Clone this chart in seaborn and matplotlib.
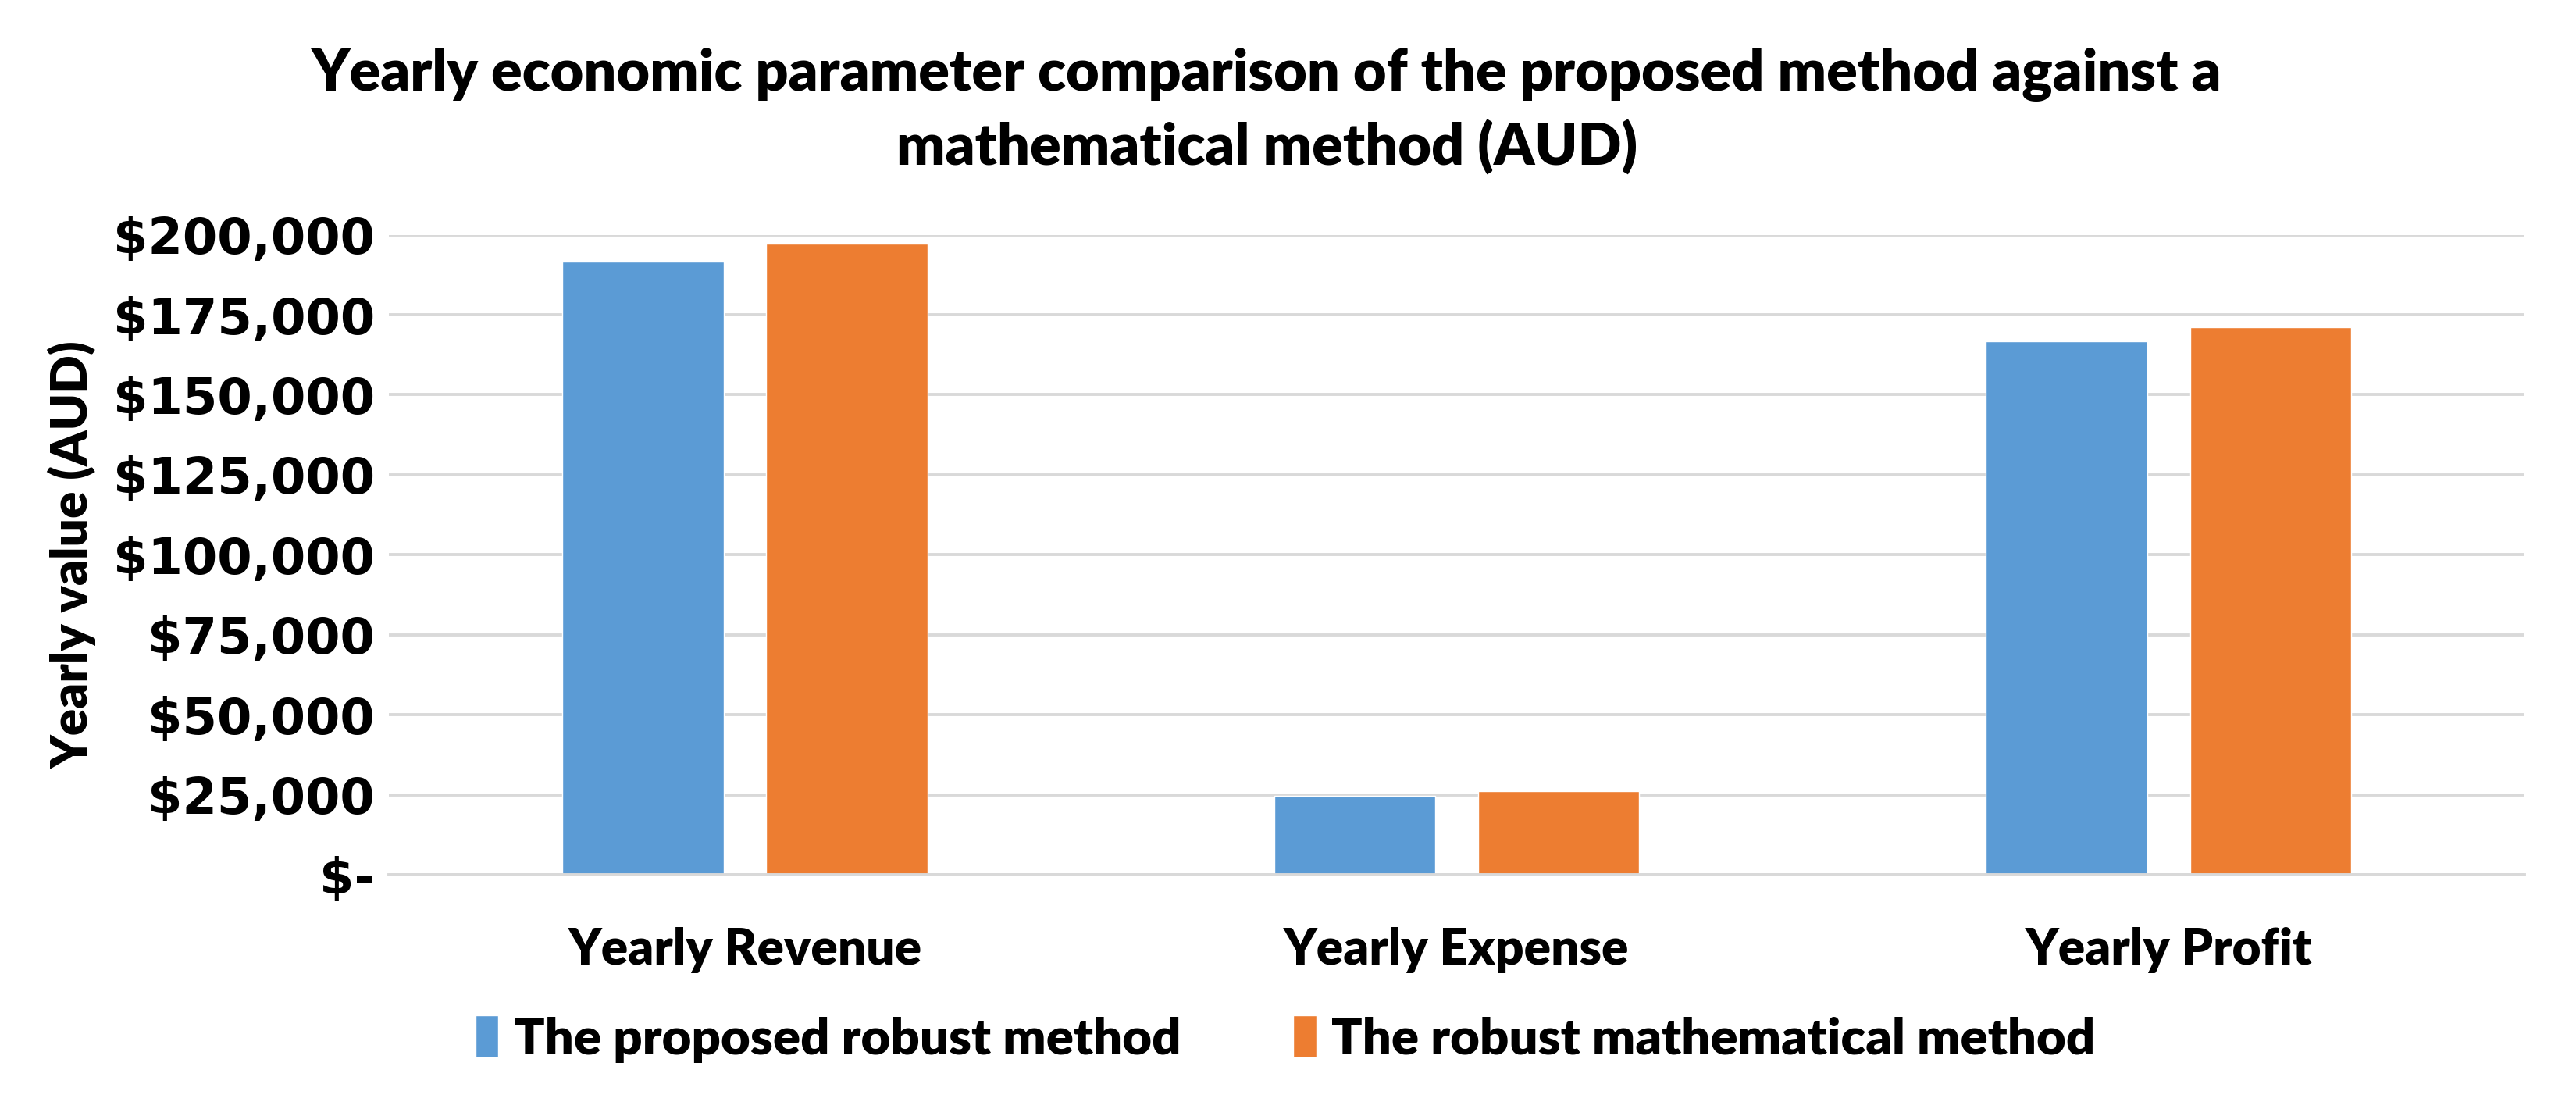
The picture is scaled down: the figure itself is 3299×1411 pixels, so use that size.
import matplotlib
matplotlib.use("Agg")
import matplotlib.pyplot as plt
import matplotlib.ticker as mticker
import seaborn as sns
import pandas as pd

categories = ["Yearly Revenue", "Yearly Expense", "Yearly Profit"]
series_names = ["The proposed robust method", "The robust mathematical method"]
proposed_values = [191700, 24800, 166600]
mathematical_values = [197300, 26200, 171200]
y_ticks = [0, 25000, 50000, 75000, 100000, 125000, 150000, 175000, 200000]

title_line1 = "Yearly economic parameter comparison of the proposed method against a"
title_line2 = "mathematical method (AUD)"
y_label = "Yearly value (AUD)"

colors = ["#5B9BD5", "#ED7D31"]

df = pd.DataFrame({
    "category": categories * 2,
    "series": [series_names[0]] * 3 + [series_names[1]] * 3,
    "value": proposed_values + mathematical_values,
})

sns.set_theme(style="white")
label_font = ["Lato", "DejaVu Sans"]
plt.rcParams["font.family"] = label_font
plt.rcParams["text.color"] = "black"
plt.rcParams["axes.labelcolor"] = "black"
plt.rcParams["xtick.color"] = "black"
plt.rcParams["ytick.color"] = "black"
HW = "heavy"

fig = plt.figure(figsize=(32.99, 14.11), dpi=100)
ax = fig.add_axes([0.151, 0.206, 0.829, 0.581])

sns.barplot(data=df, x="category", y="value", hue="series", order=categories,
            hue_order=series_names, palette=colors, width=0.573, gap=0.21,
            saturation=1, ax=ax, legend=True)

ax.set_ylim(0, 200000)
ax.set_xlim(-0.5, 2.5)
ax.set_yticks(y_ticks)

def fmt(v, pos):
    if v == 0:
        return "$-"
    return "${:,.0f}".format(v)

ax.yaxis.set_major_formatter(mticker.FuncFormatter(fmt))
ax.yaxis.grid(True, color="#D9D9D9", linewidth=2.8)
ax.set_axisbelow(True)
for s in ["top", "right", "left"]:
    ax.spines[s].set_visible(False)
ax.spines["bottom"].set_color("#D9D9D9")
ax.spines["bottom"].set_linewidth(2.8)
ax.tick_params(axis="both", length=0, colors="black")
ax.tick_params(axis="y", pad=13)
ax.tick_params(axis="x", pad=48)

for t in ax.get_yticklabels():
    t.set_fontfamily("DejaVu Sans")
    t.set_fontweight("bold")
    t.set_fontsize(46)
    t.set_color("black")
for t in ax.get_xticklabels():
    t.set_fontweight(HW)
    t.set_fontsize(46)
    t.set_color("black")

ax.set_xlabel("")
ax.set_ylabel(y_label, fontsize=46, fontweight=HW, color="black")
ax.yaxis.set_label_coords(-0.137, 0.5)

handles, labels = ax.get_legend_handles_labels()
ax.get_legend().remove()
leg = fig.legend(handles, labels, loc="center", bbox_to_anchor=(0.499, 0.057), ncol=2,
                 frameon=False, prop={"family": label_font, "weight": HW, "size": 47},
                 handlelength=0.45, handleheight=0.9, handletextpad=0.3, columnspacing=2.2)
for t in leg.get_texts():
    t.set_color("black")

fig.text(0.4917, 1 - 95 / 1411, title_line1, ha="center", va="center",
         fontsize=53, fontweight=HW, color="black")
fig.text(0.4917, 1 - 189 / 1411, title_line2, ha="center", va="center",
         fontsize=53, fontweight=HW, color="black")

fig.savefig("out.png", dpi=100)
